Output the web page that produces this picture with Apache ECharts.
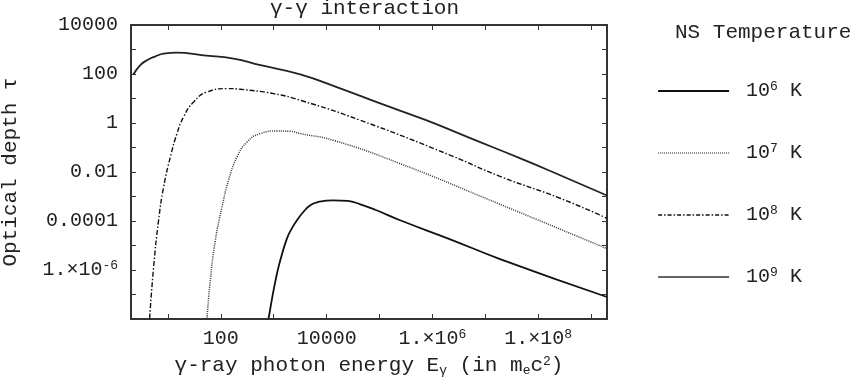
<!DOCTYPE html>
<html>
<head>
<meta charset="utf-8">
<script src="https://cdn.jsdelivr.net/npm/echarts@6/dist/echarts.min.js"></script>
<style>
html,body{margin:0;padding:0;background:#fff;}
#chart{width:857px;height:378px;}
</style>
</head>
<body>
<div id="chart"></div>
<script>
// ---- data (E in m_e c^2, tau) ----
const tempExponents = [6, 7, 8, 9];

const energyT6 = [798, 880, 993, 1150, 1330, 1780, 2200, 2750, 3660, 4900, 6560, 13400, 25000, 43300, 8.3e4, 2.45e5, 2.17e6, 1.9e7, 2e9];
const tauT6    = [1.05e-8, 3.5e-8, 1.5e-7, 7.0e-7, 2.5e-6, 1.95e-5, 5.0e-5, 1.07e-4, 2.38e-4, 4.4e-4, 5.8e-4, 7.0e-4, 6.6e-4, 4.8e-4, 2.87e-4, 1.07e-4, 1.79e-5, 2.8e-6, 7.9e-8];

const energyT7 = [54.7, 63.1, 78.5, 105, 140, 202, 312, 556, 1150, 2050, 3170, 13400, 2.45e5, 1.9e7, 2e9];
const tauT7    = [1.05e-8, 3.8e-7, 1.6e-5, 3.7e-4, 4.6e-3, 0.041, 0.168, 0.37, 0.47, 0.46, 0.37, 0.197, 0.022, 4.8e-4, 7.4e-6];

const energyT8 = [4.5, 5.35, 6.65, 8.27, 11.1, 14.8, 19.7, 30.5, 54.7, 131, 233, 993, 3170, 43600, 2.2e6, 1.9e7, 2.6e8, 2e9];
const tauT8    = [1.05e-8, 1.3e-6, 1.07e-4, 2.45e-3, 0.041, 0.37, 1.76, 7.2, 18.4, 25.4, 23.8, 15.8, 8.5, 1.29, 0.048, 0.0066, 8.5e-4, 1.29e-4];

const energyT9 = [2.2, 3.0, 4.0, 5.8, 8.3, 14.8, 47, 173, 562, 3170, 18000, 1.03e5, 7.6e5, 5.2e6, 4.6e7, 2.6e8, 2e9];
const tauT9    = [93, 229, 363, 525, 676, 741, 575, 427, 229, 97, 26, 6.3, 1.3, 0.24, 0.036, 0.0074, 0.0011];

const xTickExps = [2, 4, 6, 8];
const yTickExps = [-6, -4, -2, 0, 2, 4];

// ---- chart ----
const FONT = '"Liberation Mono", "Courier New", monospace';
const TXT = '#222';

function zip(xs, ys) { return xs.map((x, i) => [x, ys[i]]); }

function expLabel(e) {
  if (e >= 0 && e <= 4) return String(Math.pow(10, e));
  if (e < 0 && e >= -4) return Math.pow(10, e).toFixed(-e);
  return '1.\u00d710{sup|' + e + '}';
}

function makeFormatter(allowed) {
  return function (v) {
    const e = Math.log10(v);
    const r = Math.round(e);
    if (Math.abs(e - r) > 1e-6) return '';
    if (allowed.indexOf(r) < 0) return '';
    return expLabel(r);
  };
}

const supRich = {
  sup: { fontSize: 13, fontFamily: FONT, color: TXT, verticalAlign: 'top', lineHeight: 12 },
  sub: { fontSize: 13, fontFamily: FONT, color: TXT, verticalAlign: 'bottom', lineHeight: 12 }
};

const baseAxisLine = { show: true, lineStyle: { color: '#333', width: 2 } };
const baseTick = { show: true, inside: true, length: 5, lineStyle: { color: '#333', width: 1 } };

const xMin = 2, xMax = 2e9, yMin = 1e-8, yMax = 1e4;

const seriesDefs = [
  { e: 6, xs: energyT6, ys: tauT6, style: { color: '#111', width: 1.8, type: 'solid' } },
  { e: 7, xs: energyT7, ys: tauT7, style: { color: '#333', width: 1.5, type: [1, 1.2] } },
  { e: 8, xs: energyT8, ys: tauT8, style: { color: '#111', width: 1.4, type: [5, 2, 1.5, 2] } },
  { e: 9, xs: energyT9, ys: tauT9, style: { color: '#222', width: 1.8, type: 'solid' } }
];

const legendLine = {
  6: { color: '#111', width: 2, type: 'solid' },
  7: { color: '#666', width: 1.6, type: [1, 1] },
  8: { color: '#111', width: 1.4, type: [4, 2, 1.5, 2] },
  9: { color: '#666', width: 2.2, type: 'solid' }
};

const chart = echarts.init(document.getElementById('chart'), null, { renderer: 'canvas' });

chart.setOption({
  animation: false,
  backgroundColor: '#fff',
  textStyle: { fontFamily: FONT, color: TXT },
  title: [
    { text: '\u03b3-\u03b3 interaction', left: 270, top: -2, padding: 0,
      textStyle: { fontFamily: FONT, fontSize: 21, fontWeight: 'normal', color: TXT } },
    { text: 'NS Temperature', left: 675, top: 22, padding: 0,
      textStyle: { fontFamily: FONT, fontSize: 21, fontWeight: 'normal', color: TXT } }
  ],
  legend: {
    orient: 'vertical',
    left: 657,
    top: 80,
    padding: 0,
    itemWidth: 71,
    itemHeight: 22,
    itemGap: 40,
    data: tempExponents.map(e => ({ name: '10^' + e + ' K', lineStyle: legendLine[e] })),
    itemStyle: { color: 'rgba(0,0,0,0)', borderWidth: 0, opacity: 0 },
    formatter: function (name) {
      const e = name.replace('10^', '').replace(' K', '');
      return ' 10{sup|' + e + '} K';
    },
    textStyle: {
      fontFamily: FONT, fontSize: 20, color: TXT, lineHeight: 22,
      rich: supRich
    }
  },
  grid: { left: 131, top: 25, width: 476, height: 294, containLabel: false, outerBoundsMode: 'none' },
  xAxis: [
    {
      type: 'log', logBase: 10, min: xMin, max: xMax, splitNumber: 9,
      position: 'bottom',
      axisLine: baseAxisLine, axisTick: baseTick, splitLine: { show: false },
      axisLabel: {
        margin: 9, fontFamily: FONT, fontSize: 20, color: TXT, lineHeight: 22,
        formatter: makeFormatter(xTickExps), rich: supRich
      },
      name: '\u03b3-ray photon energy E{sub|\u03b3} (in m{sub|e}c{sup|2})',
      nameLocation: 'middle', nameGap: 34,
      nameTextStyle: { fontFamily: FONT, fontSize: 21, color: TXT, lineHeight: 22, rich: supRich }
    },
    {
      type: 'log', logBase: 10, min: xMin, max: xMax, splitNumber: 9,
      position: 'top',
      axisLine: baseAxisLine, axisTick: baseTick, splitLine: { show: false },
      axisLabel: { show: false }
    }
  ],
  yAxis: [
    {
      type: 'log', logBase: 10, min: yMin, max: yMax, interval: 1,
      position: 'left',
      axisLine: baseAxisLine, axisTick: baseTick, splitLine: { show: false },
      axisLabel: {
        margin: 13, fontFamily: FONT, fontSize: 20, color: TXT, lineHeight: 22,
        formatter: makeFormatter(yTickExps), rich: supRich
      },
      name: 'Optical depth \u03c4',
      nameLocation: 'middle', nameGap: 110, nameRotate: 90,
      nameTextStyle: { fontFamily: FONT, fontSize: 21, color: TXT }
    },
    {
      type: 'log', logBase: 10, min: yMin, max: yMax, interval: 1,
      position: 'right',
      axisLine: baseAxisLine, axisTick: baseTick, splitLine: { show: false },
      axisLabel: { show: false }
    }
  ],
  series: seriesDefs.map(d => ({
    name: '10^' + d.e + ' K',
    type: 'line',
    xAxisIndex: 0,
    yAxisIndex: 0,
    data: zip(d.xs, d.ys),
    showSymbol: false,
    symbol: 'none',
    smooth: 0.5,
    clip: true,
    lineStyle: d.style,
    itemStyle: { color: d.style.color }
  }))
});
</script>
</body>
</html>
